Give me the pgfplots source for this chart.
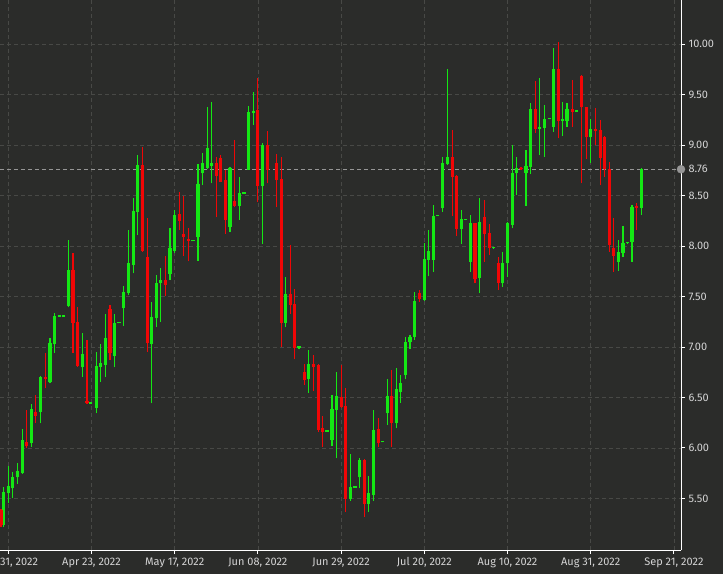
\documentclass[border=0pt]{standalone}
\usepackage{fontspec}
\setmainfont{Fira Sans}
\usepackage{pgfplots}
\usepackage{pgfplotstable}
\pgfplotsset{compat=1.18}
\definecolor{bg}{RGB}{43,44,42}
\definecolor{gridc}{RGB}{72,73,70}
\definecolor{cgreen}{RGB}{20,232,20}
\definecolor{cred}{RGB}{240,6,6}
\definecolor{lab}{RGB}{212,212,212}
\definecolor{lastc}{RGB}{150,150,150}

\pgfplotstableread{
x o h l c
3.3 5.238 5.617 5.221 5.568
8.3 5.551 5.822 5.452 5.624
12.7 5.601 5.766 5.502 5.716
17.3 5.710 5.848 5.644 5.776
22.3 5.749 6.188 5.743 6.079
31.3 6.046 6.436 6.013 6.383
40.3 6.360 6.716 6.244 6.700
50.0 6.657 7.086 6.640 7.036
54.3 7.026 7.340 6.944 7.307
59.3 7.302 7.320 7.300 7.318
63.5 7.302 7.318 7.300 7.318
68.3 7.406 8.059 7.393 7.762
82.3 6.799 7.135 6.706 6.931
90.7 6.440 6.458 6.438 6.456
96.3 6.399 6.954 6.343 6.812
100.3 6.805 7.030 6.657 6.838
105.3 6.822 7.323 6.706 7.086
114.3 6.911 7.327 6.799 7.241
119.0 7.236 7.252 7.235 7.252
123.7 7.383 7.604 7.208 7.548
128.3 7.531 8.158 7.515 7.828
133.3 7.812 8.472 7.729 8.347
137.3 8.340 8.901 8.109 8.802
151.7 7.030 7.449 6.442 7.300
156.3 7.284 7.713 7.201 7.637
160.7 7.630 7.779 7.251 7.663
170.0 7.723 8.175 7.663 7.977
174.3 7.954 8.356 7.927 8.307
193.0 8.046 8.062 8.045 8.062
198.0 8.092 8.812 7.852 8.614
202.7 8.719 8.924 8.604 8.825
207.3 8.769 9.380 8.759 8.967
211.7 8.792 9.429 8.620 8.825
230.0 8.191 8.779 8.142 8.769
239.3 8.396 8.686 8.257 8.528
244.0 8.516 8.532 8.515 8.532
248.7 8.753 9.386 8.753 9.330
253.3 9.320 9.528 9.198 9.340
262.3 8.594 9.016 8.020 9.000
285.3 7.241 7.690 7.195 7.525
299.0 6.990 7.006 6.985 7.006
308.7 6.683 6.970 6.548 6.832
327.0 6.162 6.178 6.160 6.178
332.0 6.079 6.525 6.023 6.383
336.3 6.376 6.756 5.898 6.515
350.3 5.492 5.941 5.479 5.617
355.0 5.606 5.622 5.605 5.622
359.3 5.710 5.898 5.601 5.881
368.7 5.446 5.723 5.370 5.551
373.7 5.535 6.376 5.479 6.178
382.3 6.056 6.072 6.055 6.072
387.3 6.343 6.680 6.228 6.515
396.3 6.244 6.789 6.195 6.581
400.7 6.550 6.720 6.450 6.640
405.3 6.720 7.100 6.680 7.050
410.0 7.050 7.120 6.980 7.100
414.7 7.100 7.540 7.070 7.460
424.3 7.465 8.030 7.460 7.870
428.7 7.860 8.160 7.700 7.950
433.3 7.861 8.406 7.746 8.300
437.7 8.296 8.312 8.295 8.312
442.7 8.373 8.885 8.340 8.819
447.3 8.812 9.752 8.802 8.878
461.3 8.165 8.356 8.020 8.264
465.3 8.256 8.272 8.255 8.272
470.3 7.845 8.307 7.746 8.224
479.7 7.680 8.479 7.538 8.241
493.3 7.976 7.992 7.975 7.992
502.7 7.630 7.944 7.597 7.835
507.7 7.828 8.241 7.696 8.224
512.3 8.208 9.000 8.175 8.726
516.7 8.719 8.885 8.505 8.769
526.0 8.726 8.951 8.396 8.792
530.7 8.785 9.419 8.713 9.353
539.7 9.158 9.660 8.901 9.174
544.3 9.172 9.396 8.885 9.254
549.3 9.256 9.272 9.255 9.272
553.3 9.181 9.957 9.132 9.749
562.3 9.238 9.429 9.089 9.254
567.0 9.241 9.413 9.181 9.353
576.7 9.328 9.344 9.325 9.344
590.3 9.076 9.254 8.825 9.155
618.3 7.845 8.059 7.756 7.944
623.0 7.934 8.198 7.894 8.027
627.3 8.026 8.042 8.020 8.042
632.0 8.043 8.406 7.845 8.390
641.3 8.373 8.769 8.310 8.760
}\greendata

\pgfplotstableread{
x o h l c
1.0 5.386 5.400 5.221 5.238
26.7 6.060 6.376 5.997 6.020
35.7 6.360 6.525 6.251 6.317
45.3 6.700 6.937 6.591 6.683
73.0 7.762 7.934 6.944 7.241
77.7 7.251 7.393 6.805 6.812
87.0 6.470 7.069 6.436 6.442
110.0 7.376 7.416 6.871 6.937
142.3 8.802 8.984 7.944 7.951
147.3 7.888 8.274 6.954 7.036
165.3 7.663 7.901 7.505 7.614
179.3 8.314 8.531 8.158 8.248
183.7 8.120 8.495 7.901 8.092
188.7 8.066 8.175 7.848 8.050
216.3 8.825 8.884 8.284 8.693
220.7 8.868 8.901 8.630 8.637
225.3 8.654 8.753 8.119 8.257
234.7 8.450 9.050 8.383 8.400
257.7 9.347 9.660 8.439 8.594
267.3 9.000 9.142 8.620 8.753
276.3 8.818 8.911 8.383 8.654
281.3 8.660 8.878 7.003 7.241
290.3 7.525 8.010 7.327 7.416
294.7 7.426 7.571 6.878 6.987
304.3 6.756 6.832 6.624 6.673
313.3 6.832 6.921 6.567 6.805
318.3 6.822 6.830 6.162 6.178
322.3 6.195 6.317 6.013 6.162
341.3 6.508 6.822 6.393 6.403
345.7 6.416 6.591 5.370 5.492
364.3 5.881 5.890 5.320 5.446
378.3 6.185 6.294 6.013 6.053
391.7 6.515 6.772 6.013 6.251
419.3 7.530 7.560 7.450 7.480
452.3 8.878 9.148 8.297 8.687
456.3 8.693 8.700 8.099 8.165
475.0 8.224 8.230 7.630 7.670
484.3 8.290 8.455 7.845 8.119
489.3 8.125 8.218 7.911 7.977
498.3 7.828 7.894 7.564 7.630
521.0 8.776 8.778 8.755 8.760
535.3 9.353 9.637 9.122 9.155
558.3 9.749 10.017 9.066 9.241
572.3 9.353 9.644 9.181 9.330
581.7 9.683 9.690 8.621 9.373
586.3 9.373 9.380 8.858 9.076
595.3 9.158 9.363 9.000 9.140
600.3 9.149 9.248 8.604 8.868
604.3 9.076 9.089 8.687 8.759
609.3 8.759 8.835 7.944 8.010
613.7 7.980 8.274 7.746 7.900
636.7 8.400 8.423 8.159 8.380
}\reddata

\begin{document}
\begin{tikzpicture}
\fill[bg] (0,0) rectangle (723bp,574bp);
\begin{axis}[
  at={(0bp,24bp)}, anchor=south west,
  width=681bp, height=550bp, scale only axis,
  xmin=0, xmax=681, ymin=4.99, ymax=10.436,
  axis x line*=bottom, axis y line*=right,
  axis line style={white, line width=1bp, -},
  xtick={8.3,91.5,174.7,257.9,341.1,424.3,507.5,590.7,673.9},
  xticklabels={{Mar 31, 2022},{Apr 23, 2022},{May 17, 2022},{Jun 08, 2022},{Jun 29, 2022},{Jul 20, 2022},{Aug 10, 2022},{Aug 31, 2022},{Sep 21, 2022}},
  ytick={5.5,6,6.5,7,7.5,8,8.5,9,9.5,10},
  yticklabel pos=right,
  tick align=outside, major tick length=4bp,
  tick style={white, line width=1bp},
  grid=major,
  major grid style={gridc, dash pattern=on 4bp off 3bp, line width=0.8bp},
  ticklabel style={font=\fontsize{11}{13}\selectfont, text=lab},
  /pgf/number format/assume math mode=true,
  yticklabel style={/pgf/number format/.cd, fixed, fixed zerofill, precision=2, assume math mode=true},
  extra y ticks={8.76}, extra y tick labels={8.76},
  extra y tick style={grid=none, tick style={draw=none}},
]
% last price line
\addplot[lastc, dash pattern=on 4bp off 3bp, line width=0.8bp, forget plot] coordinates {(0,8.76) (681,8.76)};
% green wicks and bodies
\addplot[draw=none, mark=none, forget plot, error bars/.cd, y dir=plus, y explicit, error mark=none,
  error bar style={draw=cgreen, solid, line width=1.2bp}]
  table[x=x, y=l, y error plus expr=\thisrow{h}-\thisrow{l}] {\greendata};
\addplot[draw=none, mark=none, forget plot, error bars/.cd, y dir=plus, y explicit, error mark=none,
  error bar style={draw=cgreen, solid, line width=3.2bp}]
  table[x=x, y=o, y error plus expr=\thisrow{c}-\thisrow{o}] {\greendata};
% red wicks and bodies
\addplot[draw=none, mark=none, forget plot, error bars/.cd, y dir=plus, y explicit, error mark=none,
  error bar style={draw=cred, solid, line width=1.2bp}]
  table[x=x, y=l, y error plus expr=\thisrow{h}-\thisrow{l}] {\reddata};
\addplot[draw=none, mark=none, forget plot, error bars/.cd, y dir=plus, y explicit, error mark=none,
  error bar style={draw=cred, solid, line width=3.2bp}]
  table[x=x, y=o, y error plus expr=\thisrow{c}-\thisrow{o}] {\reddata};
% last price marker
\addplot[only marks, mark=*, mark size=4bp, lastc, mark options={fill=lastc, draw=lastc}, forget plot] coordinates {(681,8.76)};
\end{axis}
\pgfresetboundingbox
\path[use as bounding box] (0,0) rectangle (723bp,574bp);
\end{tikzpicture}
\end{document}
